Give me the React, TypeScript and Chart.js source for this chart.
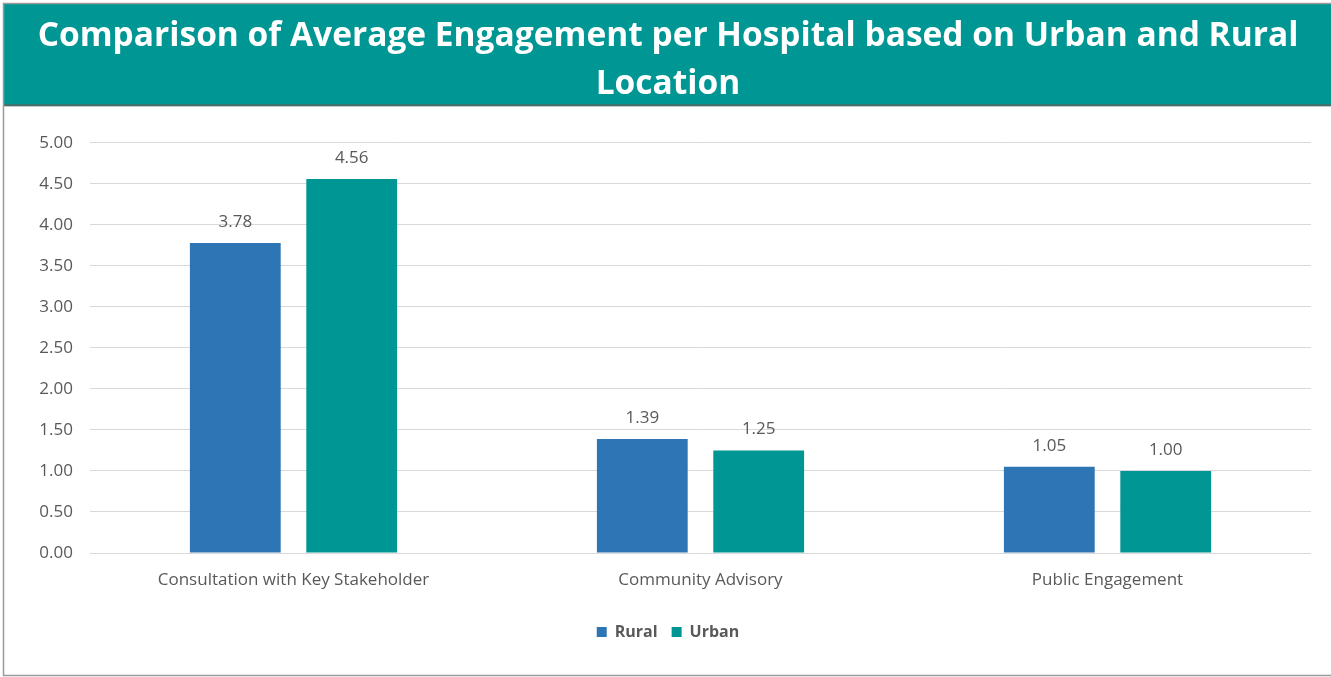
import React, { useEffect, useRef } from "react";
import { Chart, registerables } from "chart.js";

Chart.register(...registerables);

const categories = ["Consultation with Key Stakeholder", "Community Advisory", "Public Engagement"];
const ruralValues = [3.78, 1.39, 1.05];
const urbanValues = [4.56, 1.25, 1.0];
const seriesNames = ["Rural", "Urban"];
const titleLines = [
  "Comparison of Average Engagement per Hospital based on Urban and Rural",
  "Location",
];
const yMin = 0;
const yMax = 5;
const yStep = 0.5;

const TEAL = "#009694";
const BLUE = "#2E75B6";
const TEXT = "#595959";
const FONT = "'Open Sans', 'DejaVu Sans', sans-serif";

const framePlugin = {
  id: "frame",
  beforeDraw(chart: any) {
    const { ctx, width, height } = chart;
    ctx.save();
    ctx.fillStyle = "#ffffff";
    ctx.fillRect(0, 0, width, height);
    ctx.fillStyle = TEAL;
    ctx.fillRect(4, 4, width - 4, 101);
    ctx.fillStyle = "#3f7370";
    ctx.fillRect(4, 104, width - 4, 2);
    ctx.strokeStyle = "#9a9a9a";
    ctx.lineWidth = 1.5;
    ctx.beginPath();
    ctx.moveTo(width + 5, 3.5);
    ctx.lineTo(3.5, 3.5);
    ctx.lineTo(3.5, 675.5);
    ctx.lineTo(width + 5, 675.5);
    ctx.stroke();
    ctx.strokeStyle = "#c8c8c8";
    ctx.lineWidth = 1;
    ctx.beginPath();
    ctx.moveTo(4, 106.5);
    ctx.lineTo(width, 106.5);
    ctx.stroke();
    ctx.restore();
  },
};

const valueLabelPlugin = {
  id: "valueLabels",
  afterDatasetsDraw(chart: any) {
    const { ctx } = chart;
    ctx.save();
    ctx.fillStyle = TEXT;
    ctx.font = `17px ${FONT}`;
    ctx.textAlign = "center";
    ctx.textBaseline = "middle";
    chart.data.datasets.forEach((ds: any, i: number) => {
      const meta = chart.getDatasetMeta(i);
      meta.data.forEach((el: any, j: number) => {
        const v = ds.data[j] as number;
        ctx.fillText(v.toFixed(2), el.x, el.y - 21);
      });
    });
    ctx.restore();
  },
};

export default function App() {
  const ref = useRef<HTMLCanvasElement | null>(null);

  useEffect(() => {
    document.body.style.margin = "0";
    const canvas = ref.current;
    if (!canvas) return;
    const chart = new Chart(canvas, {
      type: "bar",
      data: {
        labels: categories,
        datasets: [
          {
            label: seriesNames[0],
            data: ruralValues,
            backgroundColor: BLUE,
            categoryPercentage: 0.572,
            barPercentage: 0.78,
          },
          {
            label: seriesNames[1],
            data: urbanValues,
            backgroundColor: TEAL,
            categoryPercentage: 0.572,
            barPercentage: 0.78,
          },
        ],
      },
      options: {
        responsive: false,
        animation: false,
        layout: { padding: { top: 0, left: 25, right: 20, bottom: 27 } },
        scales: {
          x: {
            grid: { display: false, drawTicks: false },
            border: { display: false },
            ticks: {
              color: TEXT,
              font: { family: FONT, size: 17 },
              padding: 17,
            },
            afterFit: (scale: any) => {
              scale.height = 57;
            },
          },
          y: {
            min: yMin,
            max: yMax,
            grid: { color: "#d9d9d9", lineWidth: 1, drawTicks: false },
            border: { display: false },
            ticks: {
              stepSize: yStep,
              color: TEXT,
              font: { family: FONT, size: 17 },
              padding: 17,
              callback: (v: any) => Number(v).toFixed(2),
            },
            afterFit: (scale: any) => {
              scale.width = 65;
            },
          },
        },
        plugins: {
          title: {
            display: true,
            text: titleLines,
            color: "#ffffff",
            font: { family: FONT, size: 33.5, weight: "bold", lineHeight: 1.43 },
            padding: { top: 13, bottom: 34 },
          },
          legend: {
            position: "bottom",
            labels: {
              boxWidth: 10,
              boxHeight: 10,
              color: TEXT,
              font: { family: FONT, size: 16, weight: "bold" },
              padding: 14,
            },
          },
          tooltip: { enabled: false },
        },
      },
      plugins: [framePlugin, valueLabelPlugin],
    });
    return () => chart.destroy();
  }, []);

  return <canvas ref={ref} width={1331} height={677} style={{ display: "block" }} />;
}
